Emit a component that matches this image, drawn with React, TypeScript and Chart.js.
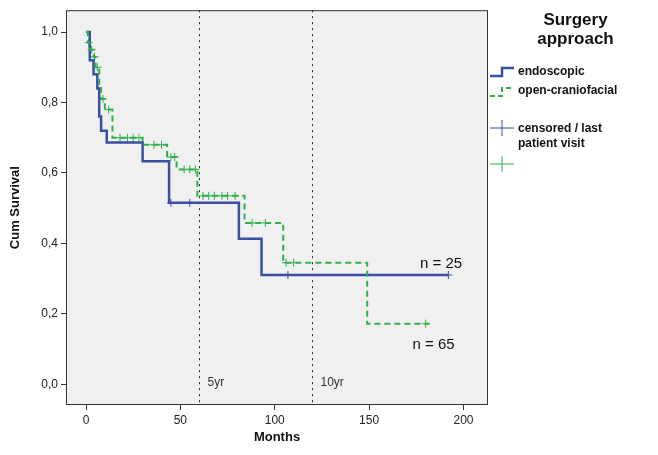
import React, { useEffect, useRef } from "react";
import { Chart, registerables } from "chart.js";
Chart.register(...registerables);

const endoTimes = [0, 2, 4, 6, 7, 8, 11, 30, 44, 81, 93, 192];
const endoSurv = [1.0, 0.92, 0.88, 0.84, 0.76, 0.72, 0.686, 0.633, 0.515, 0.413, 0.31, 0.31];
const endoCensT = [45, 55, 107, 192];
const openTimes = [0, 1, 2, 4, 5, 7, 8, 10, 14, 30, 43, 48, 59, 84, 104.5, 149, 182];
const openSurv = [1.0, 0.97, 0.95, 0.93, 0.9, 0.85, 0.81, 0.78, 0.70, 0.68, 0.645, 0.61, 0.535, 0.458, 0.345, 0.172, 0.172];
const openCensT = [1.5, 3, 4.5, 6, 9, 12, 18, 22, 25, 28, 36, 40, 45, 47, 52, 55, 58, 62, 65, 68, 72, 75, 79, 88, 95, 106, 110, 180];
const yTicks = [0, 0.2, 0.4, 0.6, 0.8, 1.0];
const refLines = [60, 120];
const refLabels = ["5yr", "10yr"];

const BLUE = "#3a4fa0";
const GREEN = "#2fae4a";

function survAt(times: number[], surv: number[], t: number) {
  let s = surv[0];
  for (let i = 0; i < times.length; i++) if (times[i] <= t) s = surv[i];
  return s;
}

export default function App() {
  const ref = useRef<HTMLCanvasElement>(null);
  useEffect(() => {
    const bg = {
      id: "bg",
      beforeDraw(c: any) {
        const { ctx, chartArea: a } = c;
        ctx.save();
        ctx.fillStyle = "#f0f0f0";
        ctx.fillRect(a.left, a.top, a.right - a.left, a.bottom - a.top);
        ctx.restore();
      },
      beforeDatasetsDraw(c: any) {
        const { ctx, chartArea: a, scales } = c;
        ctx.save();
        ctx.strokeStyle = "#222";
        ctx.lineWidth = 1;
        ctx.setLineDash([2, 4]);
        refLines.forEach((v, i) => {
          const x = Math.round(scales.x.getPixelForValue(v)) + 0.5;
          ctx.beginPath();
          ctx.moveTo(x, a.top);
          ctx.lineTo(x, a.bottom);
          ctx.stroke();
          ctx.fillStyle = "#333";
          ctx.font = "12px Arial, 'Liberation Sans'";
          ctx.fillText(refLabels[i], x + 8, scales.y.getPixelForValue(-0.005));
        });
        ctx.restore();
      },
      afterDatasetsDraw(c: any) {
        const { ctx, chartArea: a, scales } = c;
        ctx.save();
        ctx.fillStyle = "#111";
        ctx.font = "15px Arial, 'Liberation Sans'";
        ctx.fillText("n = 25", scales.x.getPixelForValue(177), scales.y.getPixelForValue(0.32) - 4);
        ctx.fillText("n = 65", scales.x.getPixelForValue(173), scales.y.getPixelForValue(0.1));
        ctx.strokeStyle = "#333";
        ctx.lineWidth = 1;
        ctx.setLineDash([]);
        ctx.strokeRect(a.left + 0.5, a.top + 0.5, a.right - a.left - 1, a.bottom - a.top - 1);
        ctx.restore();
      },
    };
    const chart = new Chart(ref.current!, {
      type: "line",
      data: {
        datasets: [
          {
            data: openTimes.map((t, i) => ({ x: t, y: openSurv[i] })),
            borderColor: GREEN, borderWidth: 2, borderDash: [6, 4], stepped: true, pointRadius: 0,
          },
          {
            data: endoTimes.map((t, i) => ({ x: t, y: endoSurv[i] })),
            borderColor: BLUE, borderWidth: 2.5, stepped: true, pointRadius: 0,
          },
          {
            data: openCensT.map((t) => ({ x: t, y: survAt(openTimes, openSurv, t) })),
            showLine: false, pointStyle: "cross", pointRadius: 4, borderColor: GREEN, pointBorderWidth: 1, backgroundColor: GREEN,
          },
          {
            data: endoCensT.map((t) => ({ x: t, y: survAt(endoTimes, endoSurv, t) })),
            showLine: false, pointStyle: "cross", pointRadius: 4, borderColor: BLUE, pointBorderWidth: 1, backgroundColor: BLUE,
          },
        ] as any,
      },
      options: {
        animation: false,
        responsive: false,
        layout: { padding: { left: 4, right: 170, top: 8, bottom: 6 } },
        plugins: { legend: { display: false }, tooltip: { enabled: false } },
        scales: {
          x: {
            type: "linear", min: -10.6, max: 213,
            afterBuildTicks: (s: any) => { s.ticks = [0, 50, 100, 150, 200].map((v) => ({ value: v })); },
            grid: { drawOnChartArea: false, tickLength: 5, color: "#333" },
            border: { display: false },
            ticks: { color: "#222", font: { size: 12, family: "Arial, 'Liberation Sans'" } },
            title: { display: true, text: "Months", color: "#111", font: { size: 13, weight: "bold", family: "Arial, 'Liberation Sans'" } },
            afterFit: (s: any) => { s.height = 44; },
          },
          y: {
            min: -0.059, max: 1.062,
            afterBuildTicks: (s: any) => { s.ticks = yTicks.map((v) => ({ value: v })); },
            grid: { drawOnChartArea: false, tickLength: 5, color: "#333" },
            border: { display: false },
            ticks: { color: "#222", font: { size: 12, family: "Arial, 'Liberation Sans'" }, callback: (v: any) => Number(v).toFixed(1).replace(".", ",") },
            title: { display: true, text: "Cum Survival", color: "#111", font: { size: 13, weight: "bold", family: "Arial, 'Liberation Sans'" } },
            afterFit: (s: any) => { s.width = 62; },
          },
        },
      } as any,
      plugins: [bg],
    });
    return () => chart.destroy();
  }, []);
  const f = "Arial, 'Liberation Sans', sans-serif";
  return (
    <div style={{ position: "absolute", left: 0, top: 0, width: 658, height: 455, background: "#fff", fontFamily: f }}>
      <canvas ref={ref} width={658} height={455} />
      <div style={{ position: "absolute", left: 493, top: 10, width: 165, textAlign: "center", fontWeight: "bold", fontSize: 17, lineHeight: "19px", color: "#111" }}>
        Surgery<br />approach
      </div>
      <svg style={{ position: "absolute", left: 488, top: 60 }} width={32} height={120}>
        <polyline points="2,16 14,16 14,8 26,8" fill="none" stroke={BLUE} strokeWidth={2.5} />
        <polyline points="2,36 14,36 14,28 26,28" fill="none" stroke={GREEN} strokeWidth={2} strokeDasharray="5,3" />
        <line x1={2} y1={68} x2={26} y2={68} stroke={BLUE} strokeWidth={1} />
        <line x1={14} y1={60} x2={14} y2={76} stroke={BLUE} strokeWidth={1} />
        <line x1={2} y1={104} x2={26} y2={104} stroke={GREEN} strokeWidth={1} />
        <line x1={14} y1={96} x2={14} y2={112} stroke={GREEN} strokeWidth={1} />
      </svg>
      <div style={{ position: "absolute", left: 518, top: 64, fontWeight: "bold", fontSize: 12, color: "#111" }}>endoscopic</div>
      <div style={{ position: "absolute", left: 518, top: 83, fontWeight: "bold", fontSize: 12, color: "#111" }}>open-craniofacial</div>
      <div style={{ position: "absolute", left: 518, top: 121, fontWeight: "bold", fontSize: 12, lineHeight: "15px", color: "#111" }}>censored / last<br />patient visit</div>
    </div>
  );
}
